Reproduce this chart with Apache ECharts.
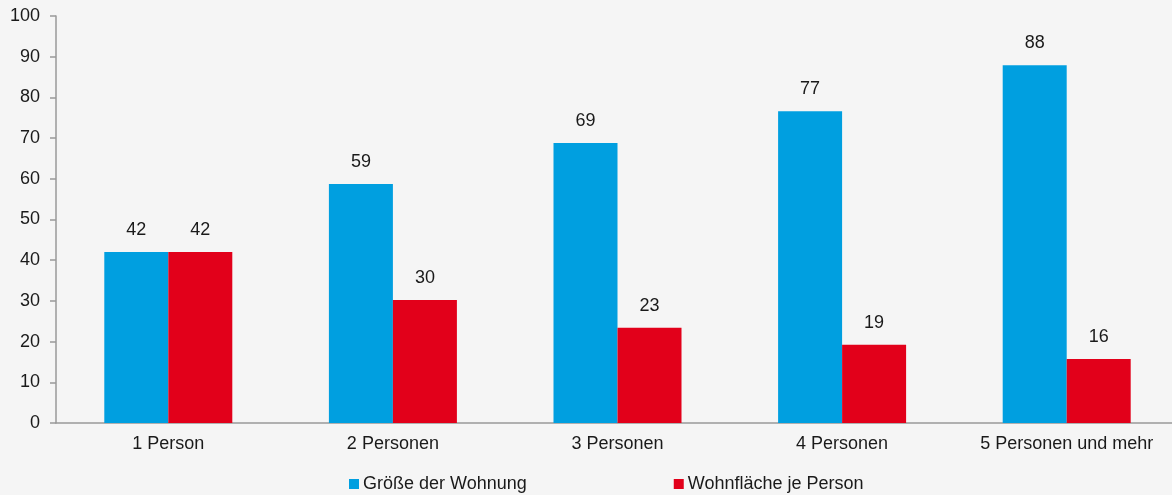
<!DOCTYPE html>
<html>
<head>
<meta charset="utf-8">
<script src="https://cdn.jsdelivr.net/npm/echarts@6/dist/echarts.min.js"></script>
<style>
  html, body { margin: 0; padding: 0; background: #f5f5f5; overflow: hidden; }
  #chart { width: 1179px; height: 495px; }
</style>
</head>
<body>
<div id="chart"></div>
<script>
// Haushaltsgröße
const categories = ['1 Person', '2 Personen', '3 Personen', '4 Personen', '5 Personen und mehr']
// Größe der Wohnung (m²)
const wohnungValues = [42, 58.7, 68.8, 76.6, 87.9]
// Wohnfläche je Person (m²)
const proPersonValues = [42, 30.2, 23.4, 19.2, 15.7]
const seriesNames = ['Größe der Wohnung', 'Wohnfläche je Person']

const chart = echarts.init(document.getElementById('chart'))

const font = 'Liberation Sans'
const labelStyle = {
    show: true,
    position: 'top',
    distance: 13,
    color: '#1a1a1a',
    fontSize: 18,
    fontFamily: font,
    formatter: (p) => Math.round(p.value)
}

// chart is a bit wider than the window, the last category runs off the right edge
chart.setOption({
    backgroundColor: '#f5f5f5',
    animation: false,
    grid: { left: 56, right: 0, top: 16, bottom: 72 },
    legend: {
        left: 344,
        top: 470,
        itemWidth: 10,
        itemHeight: 10,
        itemGap: 147,
        icon: 'rect',
        textStyle: { color: '#1a1a1a', fontSize: 18, fontFamily: font, padding: [0, 0, 0, -1] },
        data: seriesNames
    },
    xAxis: {
        type: 'category',
        data: categories,
        axisLine: { lineStyle: { color: '#999', width: 1.5 } },
        axisTick: { show: false },
        axisLabel: { color: '#1a1a1a', fontSize: 18, fontFamily: font, margin: 12, interval: 0 }
    },
    yAxis: {
        type: 'value',
        min: 0,
        max: 100,
        interval: 10,
        splitLine: { show: false },
        axisLine: { show: true, lineStyle: { color: '#999', width: 1.5 } },
        axisTick: { show: true, length: 6, lineStyle: { color: '#999', width: 1.5 } },
        axisLabel: { color: '#1a1a1a', fontSize: 18, fontFamily: font, margin: 16 }
    },
    series: [
        {
            name: seriesNames[0],
            type: 'bar',
            data: wohnungValues,
            barWidth: 64,
            barGap: '0%',
            itemStyle: { color: '#009fe0' },
            label: labelStyle
        },
        {
            name: seriesNames[1],
            type: 'bar',
            data: proPersonValues,
            barWidth: 64,
            itemStyle: { color: '#e2001a' },
            label: labelStyle
        }
    ]
})
</script>
</body>
</html>
